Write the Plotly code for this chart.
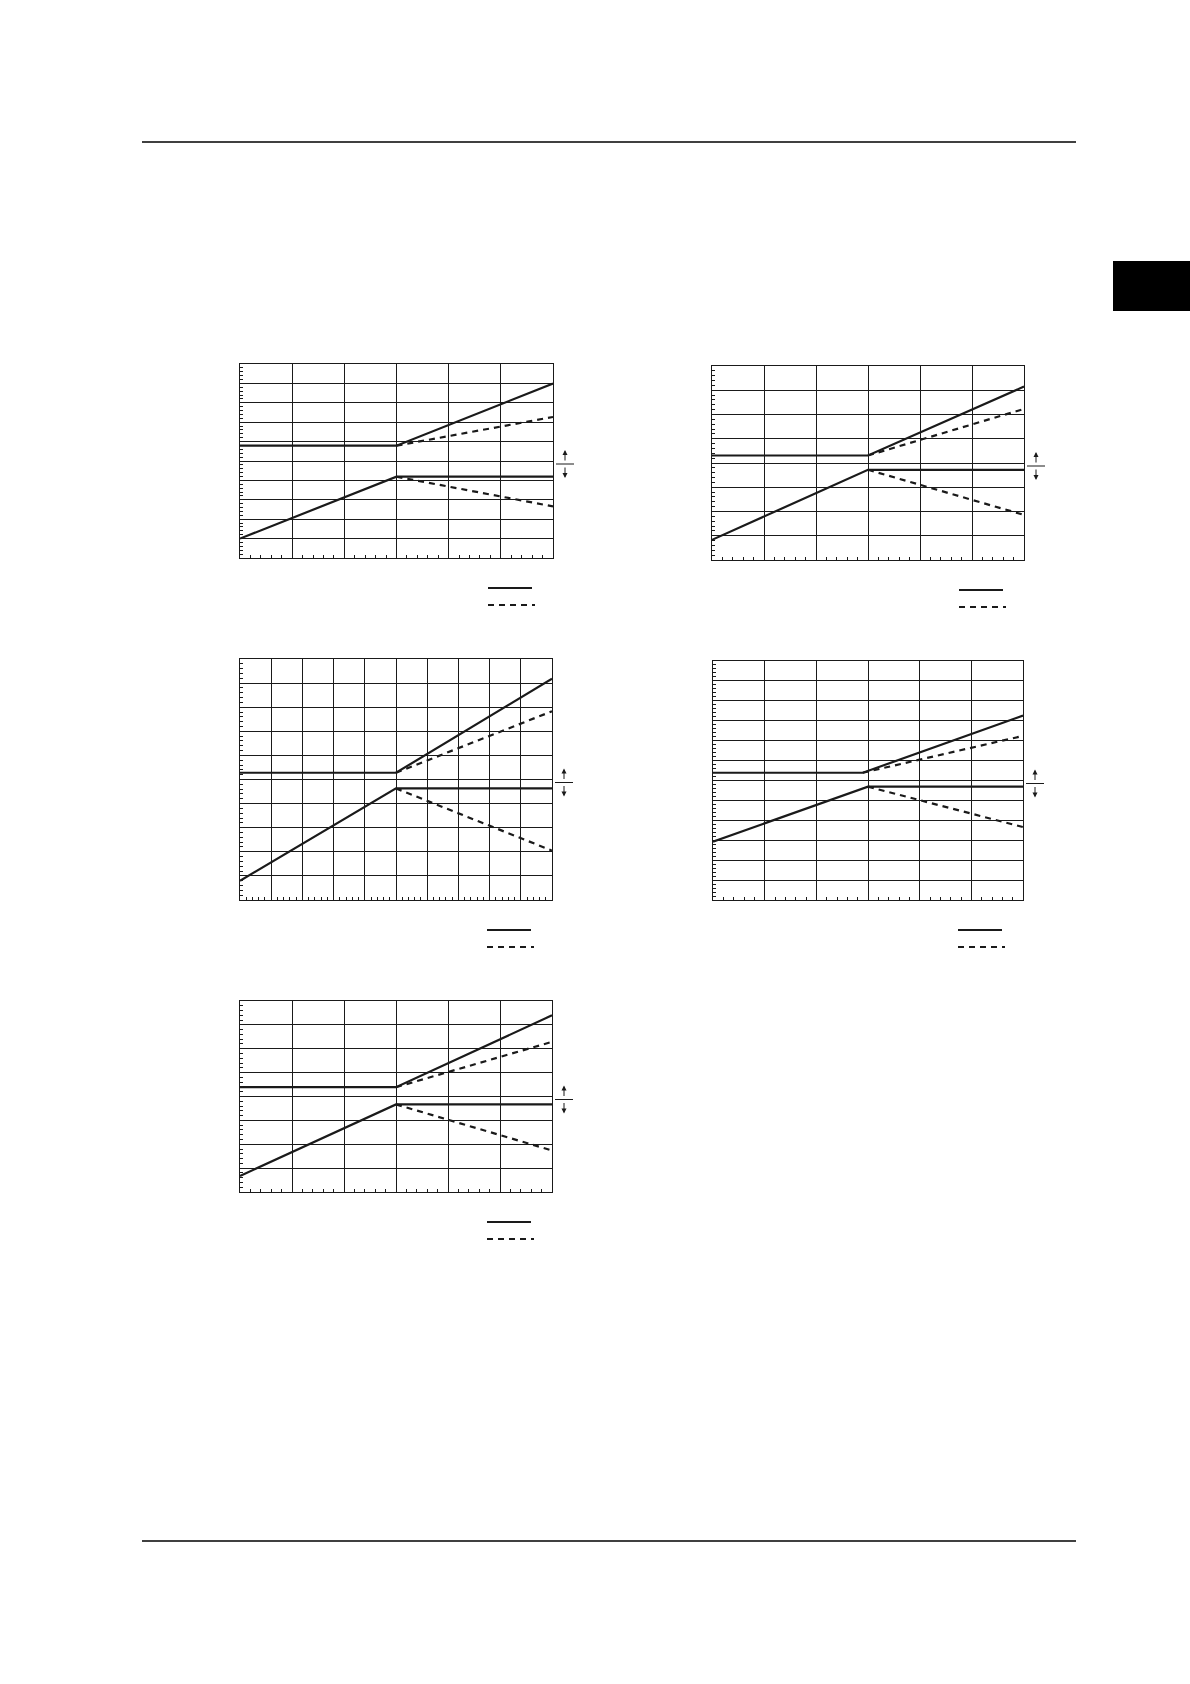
import plotly.graph_objects as go

W, H = 1190, 1684

# chart data (x = divisions along the bottom axis, y = divisions up the left axis)
X_END = [6, 6, 10, 6, 6]
Y_MAX = [10, 8, 10, 12, 8]
KNEE_LOW = [3, 3, 5, 3, 3]
KNEE_UP = [3, 3, 5, 2.9, 3]
LOW_START = [1.00, 0.83, 0.80, 2.93, 0.67]
LOW_KNEE = [4.19, 3.72, 4.63, 5.69, 3.67]
LOW_DASH_END = [2.66, 1.86, 2.05, 3.66, 1.74]
UP_FLAT = [5.79, 4.31, 5.28, 6.39, 4.39]
UP_SOLID_END = [8.99, 7.15, 9.18, 9.26, 7.40]
UP_DASH_END = [7.27, 6.23, 7.83, 8.24, 6.29]

# plot boxes in page pixels: (left, right, top, bottom)
BOXES = [
    (240, 553, 364, 558),
    (712, 1024, 366, 560),
    (240, 552, 659, 900),
    (713, 1023, 661, 900),
    (240, 552, 1001, 1192),
]

INK = "#1a1a1a"


def px(x):
    return x / W


def py(y):
    return 1 - y / H


fig = go.Figure()
shapes = []
annotations = []

for i, (l, r, t, b) in enumerate(BOXES):
    n = "" if i == 0 else str(i + 1)
    xa, ya = "x" + n, "y" + n
    xe = X_END[i]

    # lower curve: rising solid, then flat solid; dashed branch falls
    fig.add_trace(go.Scatter(
        x=[0, KNEE_LOW[i], xe], y=[LOW_START[i], LOW_KNEE[i], LOW_KNEE[i]],
        mode="lines", line=dict(color=INK, width=2.2), xaxis=xa, yaxis=ya,
        showlegend=False, hoverinfo="skip"))
    fig.add_trace(go.Scatter(
        x=[KNEE_LOW[i], xe], y=[LOW_KNEE[i], LOW_DASH_END[i]],
        mode="lines", line=dict(color=INK, width=2.2, dash="6px,5px"),
        xaxis=xa, yaxis=ya, showlegend=False, hoverinfo="skip"))
    # upper curve: flat solid, then rising solid; dashed branch rises less
    fig.add_trace(go.Scatter(
        x=[0, KNEE_UP[i], xe], y=[UP_FLAT[i], UP_FLAT[i], UP_SOLID_END[i]],
        mode="lines", line=dict(color=INK, width=2.2), xaxis=xa, yaxis=ya,
        showlegend=False, hoverinfo="skip"))
    fig.add_trace(go.Scatter(
        x=[KNEE_UP[i], xe], y=[UP_FLAT[i], UP_DASH_END[i]],
        mode="lines", line=dict(color=INK, width=2.2, dash="6px,5px"),
        xaxis=xa, yaxis=ya, showlegend=False, hoverinfo="skip"))

    axis_common = dict(
        showgrid=True, gridcolor=INK, gridwidth=1.2,
        showline=True, linecolor=INK, linewidth=1.2, mirror=True,
        ticks="", showticklabels=False, zeroline=False, dtick=1, tick0=0,
        minor=dict(ticks="inside", dtick=0.2, tick0=0, ticklen=3,
                   tickcolor=INK, tickwidth=1, showgrid=False),
    )
    xkey = "xaxis" + n
    ykey = "yaxis" + n
    fig.update_layout({
        xkey: dict(axis_common, domain=[px(l), px(r)], range=[0, xe], anchor=ya),
        ykey: dict(axis_common, domain=[py(b), py(t)], range=[0, Y_MAX[i]], anchor=xa),
    })

    # legend line samples under each chart
    lx0, lx1 = (r - 65, r - 21)
    ly = b + 30
    shapes.append(dict(type="line", xref="paper", yref="paper",
                       x0=px(lx0), x1=px(lx1), y0=py(ly), y1=py(ly),
                       line=dict(color=INK, width=2.2)))
    shapes.append(dict(type="line", xref="paper", yref="paper",
                       x0=px(lx0), x1=px(lx1 + 3), y0=py(ly + 17), y1=py(ly + 17),
                       line=dict(color=INK, width=2.2, dash="6px,5px")))

    # arrow marker to the right of the chart
    ax_x = r + 12
    mid = (t + b) / 2 + 3
    shapes.append(dict(type="line", xref="paper", yref="paper",
                       x0=px(r + 3), x1=px(r + 21), y0=py(mid), y1=py(mid),
                       line=dict(color=INK, width=1)))
    annotations.append(dict(xref="paper", yref="paper", x=px(ax_x), y=py(mid - 14),
                            ax=0, ay=12, text="", showarrow=True, arrowhead=2,
                            arrowsize=1, arrowwidth=1, arrowcolor=INK))
    annotations.append(dict(xref="paper", yref="paper", x=px(ax_x), y=py(mid + 14),
                            ax=0, ay=-12, text="", showarrow=True, arrowhead=2,
                            arrowsize=1, arrowwidth=1, arrowcolor=INK))

# page furniture: header/footer rules and side tab
shapes.append(dict(type="line", xref="paper", yref="paper",
                   x0=px(142), x1=px(1076), y0=py(142), y1=py(142),
                   line=dict(color="black", width=1.5)))
shapes.append(dict(type="line", xref="paper", yref="paper",
                   x0=px(142), x1=px(1076), y0=py(1541), y1=py(1541),
                   line=dict(color="black", width=1.5)))
shapes.append(dict(type="rect", xref="paper", yref="paper",
                   x0=px(1113), x1=px(1190), y0=py(311), y1=py(261),
                   fillcolor="black", line=dict(width=0)))

fig.update_layout(
    width=W, height=H,
    margin=dict(l=0, r=0, t=0, b=0),
    paper_bgcolor="white", plot_bgcolor="white",
    shapes=shapes, annotations=annotations,
    showlegend=False,
)

# drop the browser's default 8px body margin so page pixels line up
fig.write_html("out.html", config={"displayModeBar": False},
               post_script="document.body.style.margin='0';")
